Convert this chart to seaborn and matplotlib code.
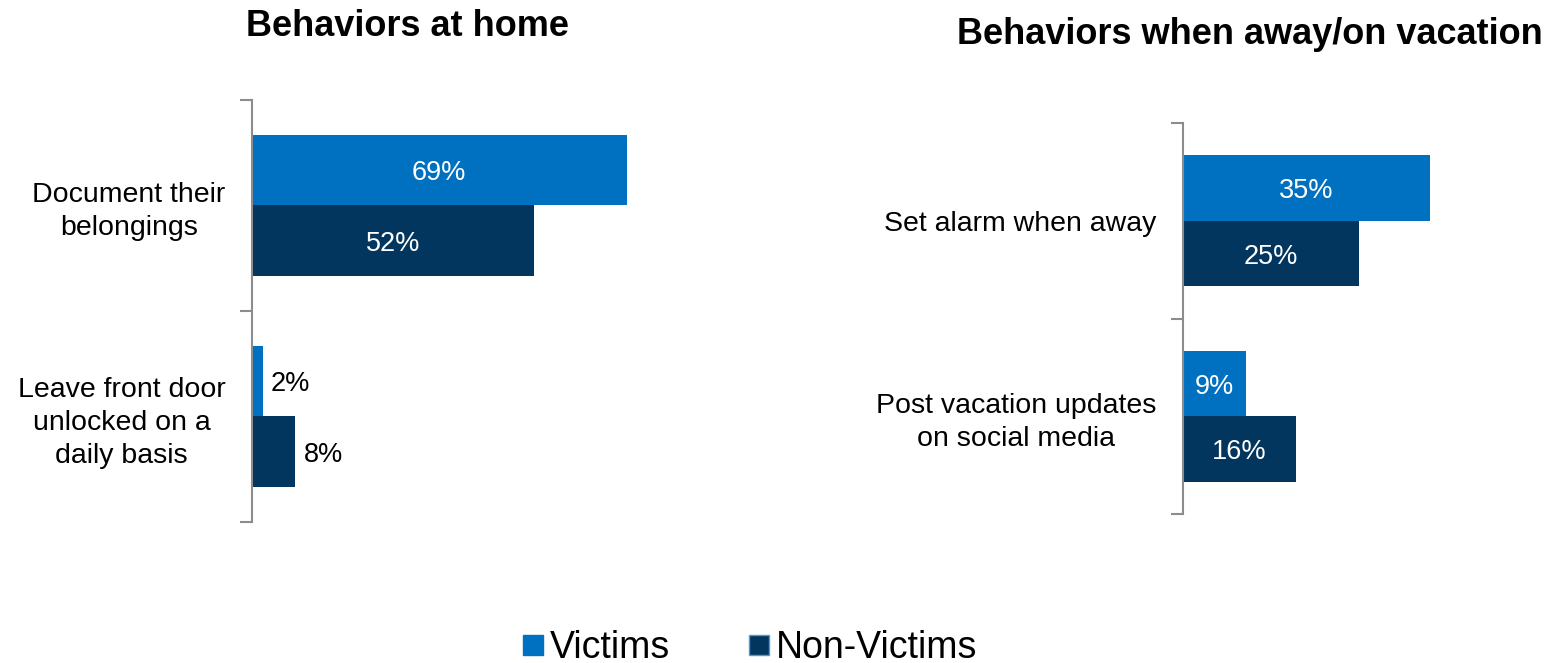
import pandas as pd
import matplotlib.pyplot as plt
import seaborn as sns
from matplotlib.lines import Line2D

# values
groups = ['Victims', 'Non-Victims']
colors = ['#0070C0', '#02365E']

home_categories = ['Document their\nbelongings', 'Leave front door\nunlocked on a\ndaily basis']
home_victims = [69, 2]
home_nonvictims = [52, 8]

away_categories = ['Set alarm when away', 'Post vacation updates\non social media']
away_victims = [35, 9]
away_nonvictims = [25, 16]

sns.set_theme(style='white')
plt.rcParams['font.family'] = ['Liberation Sans', 'DejaVu Sans']
plt.rcParams['text.color'] = 'black'
plt.rcParams['ytick.labelcolor'] = 'black'


def make_frame(cats, vic, nonvic):
    rows = []
    for c, v, n in zip(cats, vic, nonvic):
        rows.append({'behavior': c, 'group': groups[0], 'pct': v})
        rows.append({'behavior': c, 'group': groups[1], 'pct': n})
    return pd.DataFrame(rows)


def draw_panel(ax, df, xmax):
    sns.barplot(data=df, y='behavior', x='pct', hue='group', orient='h',
                palette=colors, width=0.67, linewidth=0, saturation=1,
                legend=False, ax=ax)
    ax.set_xlim(0, xmax)
    ax.set_ylim(1.5, -0.5)
    ax.set_xlabel('')
    ax.set_ylabel('')
    ax.set_xticks([])
    for s in ['top', 'right', 'bottom']:
        ax.spines[s].set_visible(False)
    ax.spines['left'].set_color('#8c8c8c')
    ax.spines['left'].set_linewidth(1.5)
    # tick marks between categories, labels at category centres
    ax.set_yticks([-0.5, 0.5, 1.5], minor=True)
    ax.tick_params(axis='y', which='minor', length=9, width=1.5, color='#8c8c8c', left=True)
    ax.tick_params(axis='y', which='major', length=0, pad=19, labelsize=20.5)
    for lab in ax.get_yticklabels():
        lab.set_multialignment('center')
        lab.set_linespacing(1.35)
    for cont in ax.containers:
        for bar in cont:
            w = bar.get_width()
            y = bar.get_y() + bar.get_height() / 2
            if w >= 9:
                ax.text(w / 2, y, f'{w:.0f}%', ha='center', va='center_baseline',
                        color='white', fontsize=19.5)
            else:
                ax.text(w + xmax * 0.015, y, f'{w:.0f}%', ha='left', va='center_baseline',
                        color='black', fontsize=19.5)


fig = plt.figure(figsize=(15.66, 6.63), dpi=100)
ax1 = fig.add_axes([0.1609, 0.2127, 0.3467, 0.6365])
ax2 = fig.add_axes([0.7554, 0.2247, 0.2254, 0.5897])

draw_panel(ax1, make_frame(home_categories, home_victims, home_nonvictims), 100)
draw_panel(ax2, make_frame(away_categories, away_victims, away_nonvictims), 50)

fig.text(408 / 1566, 1 - 27 / 663, 'Behaviors at home', ha='center', va='center',
         fontsize=26, fontweight='bold')
fig.text(1250 / 1566, 1 - 35 / 663, 'Behaviors when away/on vacation', ha='center',
         va='center', fontsize=26, fontweight='bold')

handles = [Line2D([], [], marker='s', linestyle='', markersize=15,
                  markerfacecolor=colors[0], markeredgecolor=colors[0]),
           Line2D([], [], marker='s', linestyle='', markersize=15,
                  markerfacecolor=colors[1], markeredgecolor='#4a9ad6')]
fig.legend(handles, groups, loc='center', bbox_to_anchor=(0.478, 1 - 648 / 663),
           ncol=2, frameon=False, fontsize=27, handletextpad=0.1,
           columnspacing=2.0, handlelength=0.7)

plt.savefig('out.png', dpi=100)
